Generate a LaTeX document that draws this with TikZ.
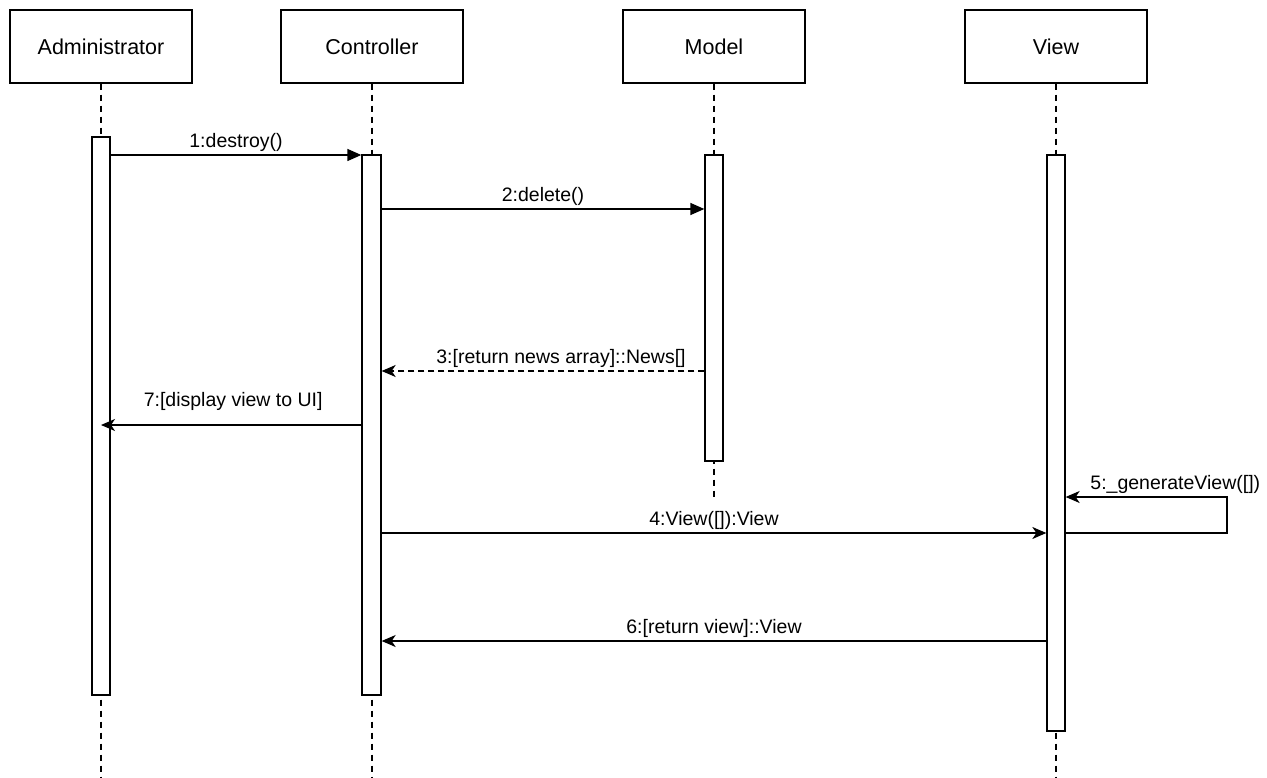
\documentclass[tikz,border=0pt]{standalone}
\usepackage{fontspec}
\setmainfont{Liberation Sans}
\usetikzlibrary{arrows.meta, positioning}

\begin{document}
\begin{tikzpicture}[x=1pt, y=-1pt,
    actor/.style={rectangle, draw, line width=1.3pt, minimum width=182pt, minimum height=73pt, inner sep=0pt, font=\fontsize{21.5}{25}\selectfont},
    bar/.style={rectangle, draw, fill=white, line width=1.3pt, minimum width=18pt, inner sep=0pt},
    life/.style={line width=1.2pt, dash pattern=on 6pt off 5pt},
    call/.style={line width=1.3pt, -{Triangle[length=14pt, width=12pt]}},
    msg/.style={line width=1.3pt, -{Stealth[length=14pt, width=12pt, inset=4pt]}},
    lbl/.style={font=\fontsize{19.5}{23}\selectfont, inner sep=3pt}]
    \useasboundingbox (0,0) rectangle (1267,778);

    \node [actor] (admin) at (101,46.5) {Administrator};
    \node [actor] (ctrl) at (372,46.5) {Controller};
    \node [actor] (model) at (714,46.5) {Model};
    \node [actor] (view) at (1056,46.5) {View};

    \draw[life] (admin.south) -- (admin.south |- 0,778);
    \draw[life] (ctrl.south) -- (ctrl.south |- 0,778);
    \draw[life] (model.south) -- (model.south |- 0,500);
    \draw[life] (view.south) -- (view.south |- 0,778);

    \node [bar, minimum height=558pt] (adminBar) at (101,416) {};
    \node [bar, minimum width=19pt, minimum height=540pt] (ctrlBar) at (371.5,425) {};
    \node [bar, minimum height=306pt] (modelBar) at (714,308) {};
    \node [bar, minimum height=576pt] (viewBar) at (1056,443) {};

    \draw[call] (adminBar.east |- 0,155) -- node[lbl, above] {1:destroy()} (ctrlBar.west |- 0,155);
    \draw[call] (ctrlBar.east |- 0,209) -- node[lbl, above] {2:delete()} (modelBar.west |- 0,209);
    \draw[msg, dash pattern=on 6pt off 4pt] (modelBar.west |- 0,371) -- node[lbl, above, xshift=18pt] {3:[return news array]::News[]} (ctrlBar.east |- 0,371);
    \draw[msg] (ctrlBar.west |- 0,425) -- node[lbl, above, xshift=2pt, yshift=11pt] {7:[display view to UI]} (adminBar.center |- 0,425);
    \draw[msg] (ctrlBar.east |- 0,533) -- node[lbl, above] {4:View([]):View} (viewBar.west |- 0,533);
    \draw[msg] (viewBar.east |- 0,533) -| (1227,497) -- node[lbl, above, xshift=29pt] {5:\_generateView([])} (viewBar.east |- 0,497);
    \draw[msg] (viewBar.west |- 0,641) -- node[lbl, above] {6:[return view]::View} (ctrlBar.east |- 0,641);
\end{tikzpicture}
\end{document}
